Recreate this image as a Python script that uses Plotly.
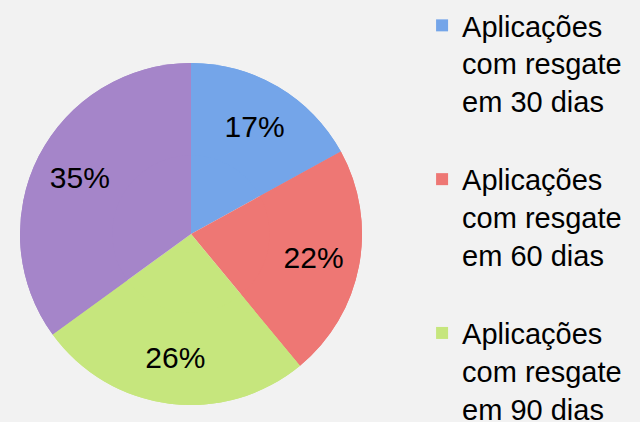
import plotly.graph_objects as go

labels = [
    "Aplicações com resgate em 30 dias",
    "Aplicações com resgate em 60 dias",
    "Aplicações com resgate em 90 dias",
    "Aplicações com resgate em 120 dias",
]
values = [17, 22, 26, 35]
colors = ["#74A5E9", "#EE7774", "#C6E67D", "#A585C9"]


def wrap(label):
    # "Aplicações com resgate em 30 dias" -> three legend lines plus spacer
    words = label.split(" ")
    lines = [words[0], " ".join(words[1:3]), " ".join(words[3:])]
    return "<br>".join(lines) + "<br>&nbsp;"


legend_labels = [wrap(l) for l in labels]
domain = dict(x=[20 / 640, 362 / 640], y=[1 - 405 / 422, 1 - 63 / 422])
font = "Arial, Liberation Sans"

fig = go.Figure()
# full pie (fills the centre)
fig.add_trace(
    go.Pie(
        labels=legend_labels,
        values=values,
        sort=False,
        direction="clockwise",
        rotation=0,
        marker=dict(colors=colors, line=dict(width=0)),
        textinfo="none",
        domain=domain,
        showlegend=False,
        hoverinfo="skip",
    )
)
# ring on top carrying the percentage labels
fig.add_trace(
    go.Pie(
        labels=legend_labels,
        values=values,
        sort=False,
        direction="clockwise",
        rotation=0,
        hole=0.46,
        marker=dict(colors=colors, line=dict(width=0)),
        texttemplate="%{percent:.0%}",
        textposition="inside",
        insidetextorientation="horizontal",
        textfont=dict(size=30, color="black", family=font),
        domain=domain,
        hoverinfo="label+percent",
    )
)

fig.update_layout(
    width=640,
    height=422,
    margin=dict(l=0, r=0, t=0, b=0, autoexpand=False),
    paper_bgcolor="#F2F2F2",
    plot_bgcolor="#F2F2F2",
    font=dict(family=font, color="black"),
    legend=dict(
        x=0.6595,
        y=1.0,
        xanchor="left",
        yanchor="top",
        font=dict(size=29, color="black"),
        bgcolor="rgba(0,0,0,0)",
        itemwidth=30,
        valign="top",
        traceorder="normal",
    ),
    showlegend=True,
)

fig.write_html(
    "out.html",
    config={"staticPlot": True},
    post_script="document.body.style.margin='0';document.body.style.background='#F2F2F2';",
)
